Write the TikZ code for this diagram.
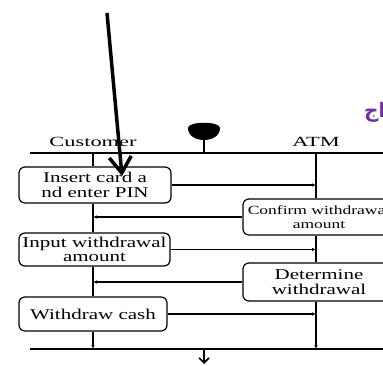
\documentclass[tikz,border=0pt]{standalone}
\usepackage{fontspec}
\setmainfont{Liberation Serif}
\newfontfamily\boxfont[FakeStretch=1.4]{Liberation Serif}
\newfontfamily\lanefont[FakeStretch=1.6]{Liberation Serif}
\newfontfamily\arabicfont[Script=Arabic]{DejaVu Sans}
\TeXXeTstate=1
\usetikzlibrary{arrows.meta}
\definecolor{arpurple}{RGB}{112,48,160}
\begin{document}
\begin{tikzpicture}[x=1pt,y=-1pt,
  act/.style={draw, line width=1.2pt, rounded corners=6pt, inner sep=0pt, align=center,
    font=\boxfont\fontsize{15}{14.5}\selectfont},
  actsmall/.style={act, font=\boxfont\fontsize{12.5}{14}\selectfont},
  lane/.style={line width=1.2pt},
  flow/.style={line width=1.2pt, -{Latex[length=4pt,width=3.5pt]}},
  bar/.style={line width=1.6pt},
  lanelabel/.style={font=\lanefont\fontsize{14}{14}\selectfont, inner sep=0pt}
]
\useasboundingbox (0,0) rectangle (383,366);
\clip (0,0) rectangle (383,366);

% lane coordinates
\coordinate (cTop) at (93,153);
\coordinate (aTop) at (316,153);
\coordinate (cBot) at (93,349);
\coordinate (aBot) at (316,349);
\coordinate (barL) at (30,153);
\coordinate (barR) at (395,153);
\coordinate (barL2) at (30,349);
\coordinate (barR2) at (395,349);

% labels
\node[lanelabel] (cust) at (93,142) {Customer};
\node[lanelabel] (atm) at (316,142) {ATM};

% Arabic fragment
\node[text=arpurple, font=\arabicfont\bfseries\fontsize{20}{20}\selectfont, anchor=west, inner sep=0pt] (ar) at (364,112) {\beginR اج\endR};

% start node
\fill (188,128) .. controls (188,121) and (220,121) .. (220,128)
      .. controls (220,136) and (212,140) .. (204,140)
      .. controls (196,140) and (188,136) .. (188,128);
\coordinate (startB) at (204,139);
\coordinate (startBar) at (204,153);
\draw[line width=2pt] (startB) -- (startBar);

% bars
\draw[bar] (barL) -- (barR);
\draw[bar] (barL2) -- (barR2);

% activities
\node[act, minimum width=152pt, minimum height=36pt] (b1) at (95,185) {Insert card a\\nd enter PIN};
\node[actsmall, minimum width=152pt, minimum height=36pt] (b2) at (319,217) {Confirm withdrawal\\amount};
\node[act, minimum width=151pt, minimum height=33pt] (b3) at (94.5,249.5) {Input withdrawal\\amount};
\node[act, minimum width=152pt, minimum height=38pt] (b4) at (319,282) {Determine\\withdrawal};
\node[act, minimum width=148pt, minimum height=34pt] (b5) at (93,314) {Withdraw cash};

% customer lane
\draw[lane] (cTop) -- (cTop |- b1.north);
\draw[lane] (cTop |- b1.south) -- (cTop |- b3.north);
\draw[lane] (cTop |- b3.south) -- (cTop |- b5.north);
\draw[flow] (cTop |- b5.south) -- (cBot);

% ATM lane
\draw[lane] (aTop) -- (aTop |- b2.north);
\draw[lane] (aTop |- b2.south) -- (aTop |- b4.north);
\draw[flow] (aTop |- b4.south) -- (aBot);

% messages
\draw[flow] (b1.east) -- (b1.east -| aTop);
\draw[flow] (b2.west) -- (b2.west -| cTop);
\draw[flow] (b3.east) -- (b3.east -| aTop);
\draw[flow] (b4.west) -- (b4.west -| cTop);
\draw[flow] (b5.east) -- (b5.east -| aTop);

% end arrow
\coordinate (endTip) at (204,364);
\draw[line width=1.6pt, -{Straight Barb[length=5pt,width=10pt]}] (startBar |- barL2) -- (endTip);

% big pointer arrow
\coordinate (pS) at (107,13);
\coordinate (pE) at (122,176);
\draw[line width=3.5pt, -{Straight Barb[length=16pt,width=22pt]}] (pS) -- (pE);
\end{tikzpicture}
\end{document}
